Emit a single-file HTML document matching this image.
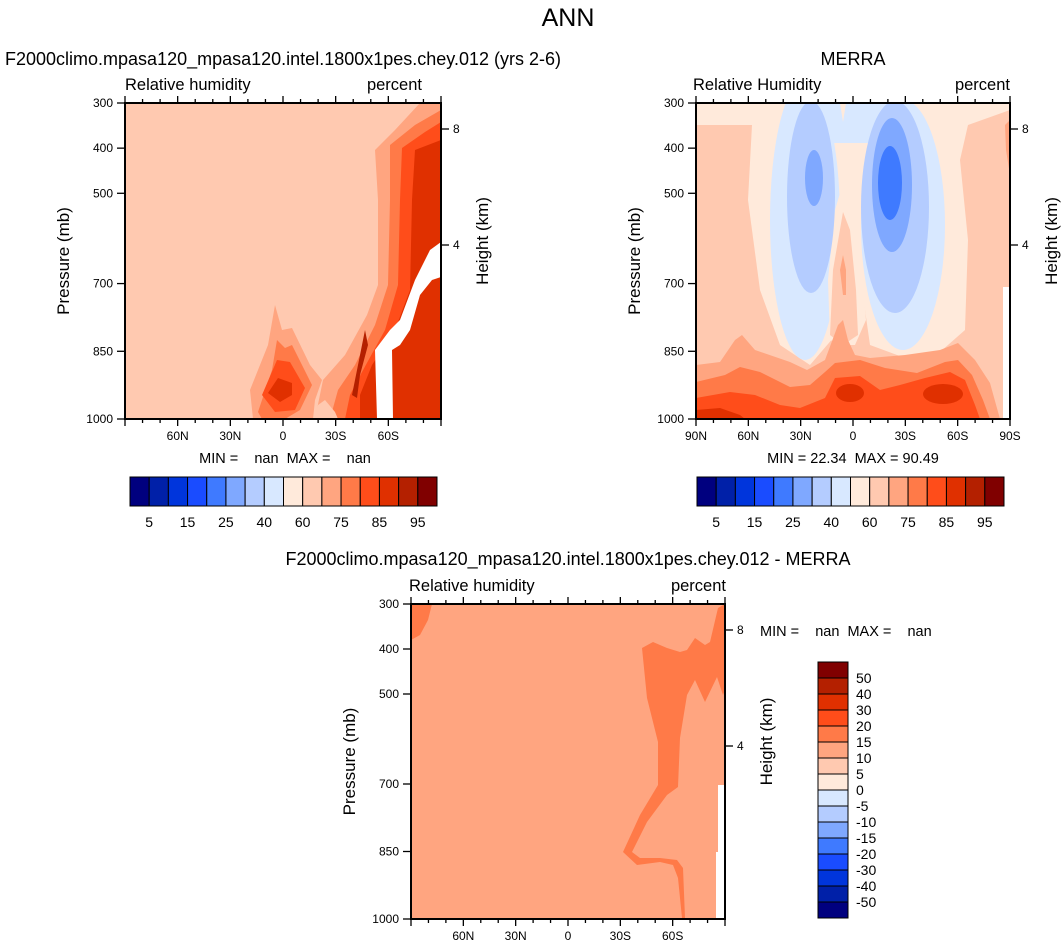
<!DOCTYPE html>
<html><head><meta charset="utf-8"><style>
html,body{margin:0;padding:0;background:#fff}
svg{display:block;font-family:"Liberation Sans",Arial,sans-serif}
.pre{white-space:pre}
</style></head><body>
<svg id="fig" width="1064" height="952" viewBox="0 0 1064 952">
<defs>
<clipPath id="c1"><rect x="125" y="103" width="316" height="316"/></clipPath>
<clipPath id="c2"><rect x="696" y="103" width="314" height="316"/></clipPath>
<clipPath id="c3"><rect x="411" y="604" width="314" height="315"/></clipPath>
</defs>
<text x="568" y="26" font-size="25" text-anchor="middle">ANN</text>

<!-- Panel 1 -->
<g>
<text x="283" y="65" font-size="18" text-anchor="middle">F2000climo.mpasa120_mpasa120.intel.1800x1pes.chey.012 (yrs 2-6)</text>
<text x="125" y="90" font-size="16.5">Relative humidity</text>
<text x="422" y="90" font-size="16.5" text-anchor="end">percent</text>
<g clip-path="url(#c1)">
<rect x="125" y="103" width="316" height="316" fill="#ffc9b0"/>
<polygon fill="#ffa580" points="420,103 441,103 441,419 315,419 323,380 345,355 367,315 378,285 378,200 375,150 395,130"/>
<polygon fill="#ff7a48" points="441,110 441,419 330,419 338,390 355,365 375,325 388,285 390,200 390,145 415,125"/>
<polygon fill="#ff4d1a" points="441,122 441,419 345,419 350,395 362,372 385,330 398,285 400,200 402,148 425,132"/>
<polygon fill="#e03000" points="441,140 441,419 360,419 360,395 372,365 395,330 410,290 412,200 415,150"/>
<polygon fill="#b42000" points="352,395 356,375 365,330 368,345 360,375 357,398"/>
<polygon fill="#ffffff" points="441,242 430,250 415,280 400,320 390,330 375,350 377,419 393,419 392,350 400,345 410,330 420,295 432,280 441,277"/>
<polygon fill="#ffa580" points="253,419 250,390 268,345 275,305 282,330 292,328 310,365 322,380 315,400 313,419"/>
<polygon fill="#ffc9b0" points="313,419 318,405 325,400 335,412 338,419"/>
<polygon fill="#ff7a48" points="258,412 272,370 277,340 285,348 292,345 312,385 300,410 285,419 262,419"/>
<polygon fill="#ff4d1a" points="262,395 277,360 290,362 305,388 295,410 275,412"/>
<polygon fill="#e03000" points="268,393 278,378 292,383 292,395 280,402"/>
</g>
<g id="ax1"></g>
<text x="285" y="463" font-size="14.5" text-anchor="middle" class="pre" xml:space="preserve">MIN =    nan  MAX =    nan</text>
<g id="cb1"></g>
</g>

<!-- Panel 2 -->
<g>
<text x="853" y="65" font-size="18" text-anchor="middle">MERRA</text>
<text x="693" y="90" font-size="16.5">Relative Humidity</text>
<text x="1010" y="90" font-size="16.5" text-anchor="end">percent</text>
<g clip-path="url(#c2)">
<rect x="696" y="103" width="314" height="316" fill="#ffc9b0"/>
<polygon fill="#ffeadb" points="696,103 1010,103 1010,110 968,125 960,160 968,240 965,330 940,352 905,358 870,345 855,240 850,200 843,240 840,330 810,365 780,345 760,290 748,200 752,125 696,125"/>
<ellipse cx="805" cy="220" rx="35" ry="140" fill="#d8e8ff"/>
<ellipse cx="903" cy="225" rx="42" ry="125" fill="#d8e8ff"/>
<rect x="790" y="103" width="120" height="40" fill="#d8e8ff"/>
<polygon fill="#ffeadb" points="843,183 852,200 860,250 866,320 855,345 843,345 830,340 828,280 835,210"/>
<polygon fill="#ffc9b0" points="843,212 850,230 856,290 858,335 843,345 830,335 833,270"/>
<polygon fill="#ffa580" points="843,255 846,270 846,295 843,295 840,270"/>
<polygon fill="#ffeadb" points="840,103 846,103 843,122"/>
<ellipse cx="811" cy="197" rx="24" ry="96" fill="#b4ccff"/>
<ellipse cx="895" cy="207" rx="34" ry="106" fill="#b4ccff"/>
<ellipse cx="814" cy="178" rx="9" ry="28" fill="#7fa8ff"/>
<ellipse cx="892" cy="185" rx="20" ry="67" fill="#7fa8ff"/>
<ellipse cx="890" cy="183" rx="12" ry="37" fill="#3f7aff"/>
<polygon fill="#ffa580" points="696,365 720,362 735,340 742,335 755,350 790,362 807,370 825,360 838,325 843,320 848,340 855,355 870,358 905,355 940,350 958,343 975,360 990,383 1000,419 696,419"/>
<polygon fill="#ff7a48" points="696,382 725,375 740,367 760,372 790,387 810,385 825,372 835,363 860,360 885,368 917,373 945,362 958,360 972,375 983,400 990,419 696,419"/>
<polygon fill="#ff4d1a" points="696,398 730,392 755,395 780,405 800,408 825,398 835,378 860,376 880,390 900,385 925,378 950,372 965,380 975,405 980,419 696,419"/>
<polygon fill="#e03000" points="696,410 720,408 740,415 745,419 696,419"/>
<ellipse cx="850" cy="393" rx="14" ry="9" fill="#e03000"/>
<ellipse cx="943" cy="394" rx="20" ry="10" fill="#e03000"/>
<polygon fill="#ffa580" points="1005,125 1010,120 1010,175 1006,150"/>
<rect x="1003" y="287" width="7" height="132" fill="#ffffff"/>
</g>
<g id="ax2"></g>
<text x="853" y="463" font-size="14.5" text-anchor="middle" class="pre" xml:space="preserve">MIN = 22.34  MAX = 90.49</text>
<g id="cb2"></g>
</g>

<!-- Panel 3 -->
<g>
<text x="568" y="565" font-size="18" text-anchor="middle">F2000climo.mpasa120_mpasa120.intel.1800x1pes.chey.012 - MERRA</text>
<text x="409" y="591" font-size="16.5">Relative humidity</text>
<text x="726" y="591" font-size="16.5" text-anchor="end">percent</text>
<g clip-path="url(#c3)">
<rect x="411" y="604" width="314" height="315" fill="#ffa580"/>
<polygon fill="#ff7a48" points="411,604 432,604 428,620 420,635 411,640"/>
<polygon fill="#ff7a48" points="725,604 718,608 710,642 705,645 695,638 687,650 680,652 667,648 653,642 642,648 647,698 658,742 658,785 640,815 623,852 637,865 660,862 673,865 678,878 682,918 685,918 683,868 677,860 660,858 640,858 632,852 647,822 667,795 678,787 680,738 687,695 695,680 705,702 717,677 723,695 725,690"/>
<rect x="718" y="785" width="7" height="134" fill="#ffffff"/>
<rect x="716" y="852" width="3" height="67" fill="#ffffff"/>
</g>
<g id="ax3"></g>
<text x="760" y="636" font-size="14.5" class="pre" xml:space="preserve">MIN =    nan  MAX =    nan</text>
<g id="cb3"></g>
</g>
</svg>
<script>
const NS="http://www.w3.org/2000/svg";
const latTicks=[90,60,30,0,-30,-60,-90];
const latLabels=["90N","60N","30N","0","30S","60S","90S"];
const presTicks=[300,400,500,700,850,1000];
const presLabels=["300","400","500","700","850","1000"];
const heightTicks=[8,4];
const seqLevels=["5","15","25","40","60","75","85","95"];
const seqColors=["#00007f","#0020a8","#0035dc","#1a4cff","#3f7aff","#7fa8ff","#b4ccff","#d8e8ff","#ffeadb","#ffc9b0","#ffa580","#ff7a48","#ff4d1a","#e03000","#b42000","#800000"];
const diffLevels=["50","40","30","20","15","10","5","0","-5","-10","-15","-20","-30","-40","-50"];

function el(tag,attrs,parent,txt){const e=document.createElementNS(NS,tag);for(const k in attrs)e.setAttribute(k,attrs[k]);if(txt!==undefined)e.textContent=txt;parent.appendChild(e);return e;}

function axes(gid,x0,y0,w,h,showEnds,hY){
  const g=document.getElementById(gid);
  const sx=lat=>x0+(90-lat)/180*w;
  const sy=p=>y0+(p-300)/700*h;
  for(let lat=90;lat>=-90;lat-=10){
    const major=lat%30===0;const L=major?7:4;const x=sx(lat);
    el('line',{x1:x,x2:x,y1:y0,y2:y0-L,stroke:'#000','stroke-width':1.3},g);
    el('line',{x1:x,x2:x,y1:y0+h,y2:y0+h+L,stroke:'#000','stroke-width':1.3},g);
  }
  latTicks.forEach((lat,i)=>{
    if(!showEnds&&Math.abs(lat)===90)return;
    const t=el('text',{x:sx(lat),y:y0+h+21,'font-size':12,'text-anchor':'middle'},g,latLabels[i]);
    
    
  });
  presTicks.forEach((p,i)=>{
    const y=sy(p);
    el('line',{x1:x0,x2:x0-8,y1:y,y2:y,stroke:'#000','stroke-width':1.3},g);
    const t=el('text',{x:x0-12,y:y+4,'font-size':12,'text-anchor':'end'},g,presLabels[i]);
    
    
  });
  heightTicks.forEach((k,i)=>{
    const y=y0+hY[i];
    el('line',{x1:x0+w,x2:x0+w+8,y1:y,y2:y,stroke:'#000','stroke-width':1.3},g);
    const t=el('text',{x:x0+w+12,y:y+4,'font-size':12},g,String(k));
    
    
  });
  const fr=el('rect',{x:x0,y:y0,width:w,height:h,fill:'none',stroke:'#000','stroke-width':2},g);
  
  
  const yl=el('text',{x:0,y:0,'font-size':17,'text-anchor':'middle',transform:`translate(${x0-56},${y0+h/2}) rotate(-90)`},g,'Pressure (mb)');
  
  
  const hl=el('text',{x:0,y:0,'font-size':17,'text-anchor':'middle',transform:`translate(${x0+w+47},${y0+h/2-20}) rotate(-90)`},g,'Height (km)');
  
  
}
axes('ax1',125,103,316,316,false,[26,142]);
axes('ax2',696,103,314,316,true,[26,142]);
axes('ax3',411,604,314,315,false,[26,142]);

function hbar(gid,x0,y0,w,h){
  const g=document.getElementById(gid);const cw=w/seqColors.length;
  seqColors.forEach((c,i)=>{
    const r=el('rect',{x:x0+i*cw,y:y0,width:cw,height:h,fill:c,stroke:'#000','stroke-width':1},g);
    
    
  });
  seqLevels.forEach((s,i)=>{
    const t=el('text',{x:x0+(2*i+1)*cw,y:y0+h+21,'font-size':14,'text-anchor':'middle'},g,s);
    
    
  });
}
hbar('cb1',130,477,307,29);
hbar('cb2',697,477,307,29);

(function(){
  const g=document.getElementById('cb3');const x0=818,y0=662,w=30,h=256;const ch=h/16;
  const cols=seqColors.slice().reverse();
  cols.forEach((c,i)=>{
    const r=el('rect',{x:x0,y:y0+i*ch,width:w,height:ch,fill:c,stroke:'#000','stroke-width':1},g);
    
    
  });
  diffLevels.forEach((s,i)=>{
    const t=el('text',{x:x0+w+8,y:y0+(i+1)*ch+5,'font-size':14},g,s);
    
    
  });
})();
</script>
</body></html>
